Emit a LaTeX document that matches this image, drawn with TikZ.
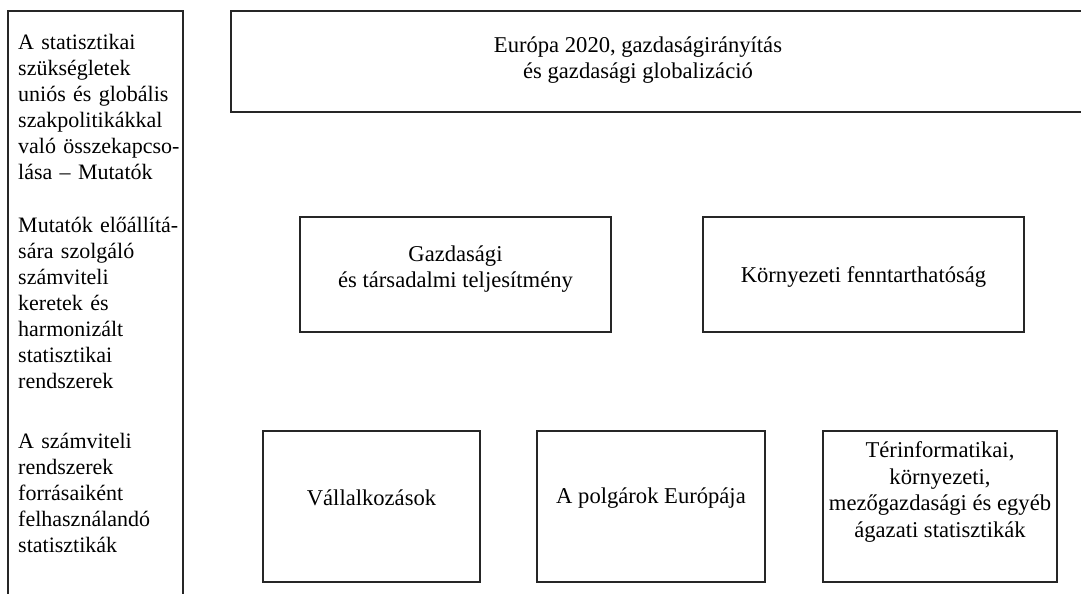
\documentclass[tikz,border=0pt]{standalone}
\usepackage{fontspec}
\setmainfont{Liberation Serif}
\begin{document}
\begin{tikzpicture}[x=1pt,y=-1pt,
  frame/.style={draw=black!85, line width=1.3pt},
  box/.style={frame, inner sep=0pt},
  txt/.style={font=\fontsize{22.6}{26.8}\selectfont, align=center, inner sep=0pt},
  coltxt/.style={font=\fontsize{22}{26}\selectfont, align=left, text width=165pt, inner sep=0pt, anchor=north west},
]
\useasboundingbox (0,0) rectangle (1081,594);
% left column (open at the bottom)
\coordinate (lbl) at (8,600);
\coordinate (ltl) at (8,11);
\coordinate (ltr) at (183,11);
\coordinate (lbr) at (183,600);
\draw[frame] (lbl) -- (ltl) -- (ltr) -- (lbr);
\node[coltxt] (coltext) at (18,34) {A statisztikai\\
szükségletek\\
\makebox[158pt][s]{uniós és globális}\\
szakpolitikákkal\\
való összekapcso-\\
lása -- Mutatók\\[27pt]
\makebox[158pt][s]{Mutatók előállítá-}\\
sára szolgáló\\
számviteli\\
keretek és\\
harmonizált\\
statisztikai\\
rendszerek\\[34pt]
A számviteli\\
rendszerek\\
forrásaiként\\
felhasználandó\\
statisztikák};
% top box (open at the right)
\coordinate (ttr) at (1090,11);
\coordinate (ttl) at (231,11);
\coordinate (tbl) at (231,112);
\coordinate (tbr) at (1090,112);
\draw[frame] (ttr) -- (ttl) -- (tbl) -- (tbr);
\node[txt] (toptext) at (638,60) {Európa 2020, gazdaságirányítás\\és gazdasági globalizáció};
% middle row
\node[box, minimum width=311pt, minimum height=115pt] (gaz) at (455.5,274.5) {};
\node[txt] (gaztext) at (455.5,269) {Gazdasági\\és társadalmi teljesítmény};
\node[box, minimum width=321pt, minimum height=115pt] (kor) at (863.5,274.5) {};
\node[txt] (kortext) at (863.5,277) {Környezeti fenntarthatóság};
% bottom row
\node[box, minimum width=217pt, minimum height=151pt] (vall) at (371.5,506.5) {};
\node[txt] (valltext) at (371.5,498) {Vállalkozások};
\node[box, minimum width=228pt, minimum height=151pt] (polg) at (651,506.5) {};
\node[txt] (polgtext) at (651,498) {A polgárok Európája};
\node[box, minimum width=234pt, minimum height=151pt] (ter) at (940,506.5) {};
\node[txt] (tertext) at (940,492) {Térinformatikai,\\környezeti,\\mezőgazdasági és egyéb\\ágazati statisztikák};
\end{tikzpicture}
\end{document}
